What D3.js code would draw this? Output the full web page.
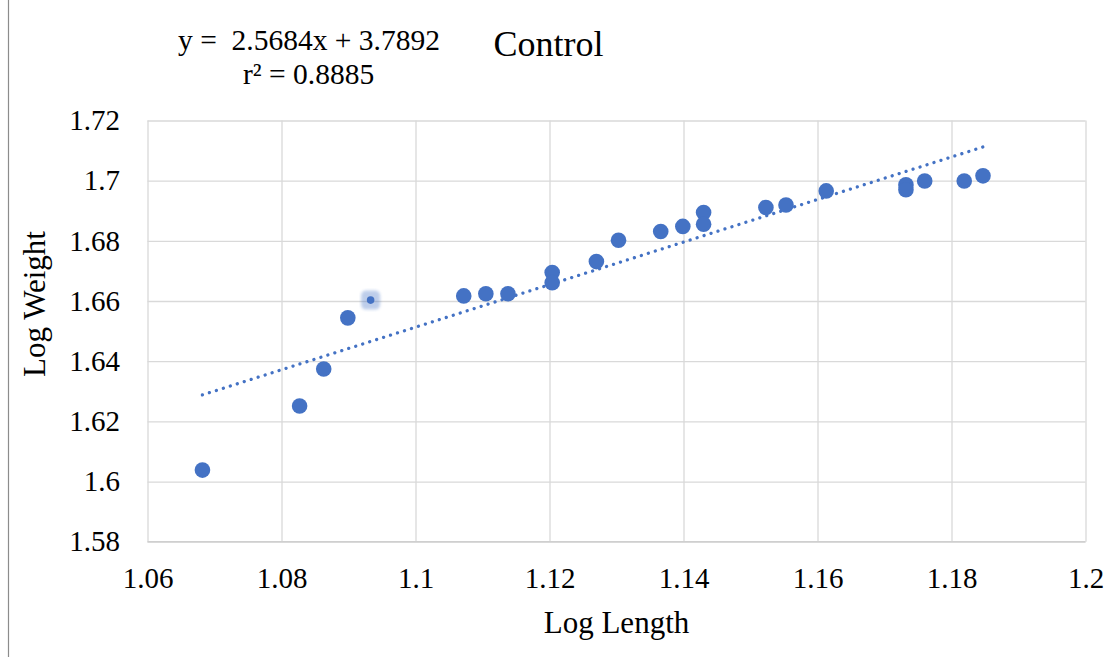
<!DOCTYPE html>
<html>
<head>
<meta charset="utf-8">
<script src="https://cdn.jsdelivr.net/npm/d3@7"></script>
<style>
body { margin: 0; background: #fff; }
</style>
</head>
<body>
<div id="chart"></div>
<script>

// data
var logLength = [1.0682, 1.0827, 1.0863, 1.0899, 1.0933, 1.1072, 1.1105, 1.1138,
  1.1204, 1.1204, 1.1270, 1.1303, 1.1366, 1.1399, 1.1430, 1.1430,
  1.1523, 1.1553, 1.1613, 1.1732, 1.1732, 1.1760, 1.1819, 1.1847]
var logWeight = [1.6038, 1.6251, 1.6374, 1.6544, 1.6603, 1.6617, 1.6624, 1.6624,
  1.6695, 1.6661, 1.6731, 1.6802, 1.6831, 1.6848, 1.6894, 1.6855,
  1.6911, 1.6919, 1.6966, 1.6986, 1.6970, 1.6999, 1.6999, 1.7016]
var selectedPoint = 4

var trendX = [1.0682, 1.1847]
var trendY = [1.6288, 1.7112]

var xTicks = [1.06, 1.08, 1.1, 1.12, 1.14, 1.16, 1.18, 1.2]
var xTickLabels = ["1.06", "1.08", "1.1", "1.12", "1.14", "1.16", "1.18", "1.2"]
var yTicks = [1.58, 1.6, 1.62, 1.64, 1.66, 1.68, 1.7, 1.72]
var yTickLabels = ["1.58", "1.6", "1.62", "1.64", "1.66", "1.68", "1.7", "1.72"]

var equationText = "y =  2.5684x + 3.7892"
var r2Text = "r\u00b2 = 0.8885"
var titleText = "Control"

var W = 1104, H = 657
var plot = { left: 147.5, right: 1085.5, top: 120.5, bottom: 541.7 }
var blue = "#4472C4"
var serif = "'Liberation Serif', 'Times New Roman', Times, serif"

var svg = d3.select("#chart").append("svg")
  .attr("width", W)
  .attr("height", H)
  .attr("font-family", serif)

svg.append("rect").attr("width", W).attr("height", H).attr("fill", "#fff")

// outer frame edge on the left
svg.append("line")
  .attr("x1", 8.5).attr("x2", 8.5).attr("y1", 0).attr("y2", H)
  .attr("stroke", "#8c8c8c").attr("stroke-width", 1.2)

var x = d3.scaleLinear().domain([1.06, 1.2]).range([plot.left, plot.right])
var y = d3.scaleLinear().domain([1.58, 1.72]).range([plot.bottom, plot.top])

//gridlines + labels for y
var yAxis = d3.axisLeft(y)
  .tickValues(yTicks)
  .tickFormat(function(d, i){ return yTickLabels[i] })
  .tickSizeInner(-(plot.right - plot.left))
  .tickSizeOuter(0)
  .tickPadding(27.5)

var gy = svg.append("g")
  .attr("transform", "translate(" + plot.left + ",0)")
  .call(yAxis)
gy.attr("font-family", serif).attr("font-size", 29)
gy.select(".domain").remove()
gy.selectAll(".tick line").attr("stroke", "#d9d9d9").attr("stroke-width", 1.3)
gy.selectAll(".tick text").attr("fill", "#000")

//gridlines + labels for x
var xAxis = d3.axisBottom(x)
  .tickValues(xTicks)
  .tickFormat(function(d, i){ return xTickLabels[i] })
  .tickSizeInner(-(plot.bottom - plot.top))
  .tickSizeOuter(0)
  .tickPadding(26)

var gx = svg.append("g")
  .attr("transform", "translate(0," + plot.bottom + ")")
  .call(xAxis)
gx.attr("font-family", serif).attr("font-size", 29)
gx.select(".domain").remove()
gx.selectAll(".tick line").attr("stroke", "#d9d9d9").attr("stroke-width", 1.3)
gx.selectAll(".tick text").attr("fill", "#000")

// bottom axis line
svg.append("line")
  .attr("x1", plot.left).attr("x2", plot.right)
  .attr("y1", plot.bottom).attr("y2", plot.bottom)
  .attr("stroke", "#cfcfcf").attr("stroke-width", 1.5)

// dotted trendline
var trend = trendX.map(function(d, i){ return [d, trendY[i]] })
svg.append("path")
  .datum(trend)
  .attr("d", d3.line().x(function(d){ return x(d[0]) }).y(function(d){ return y(d[1]) }))
  .attr("fill", "none")
  .attr("stroke", blue)
  .attr("stroke-width", 3.3)
  .attr("stroke-linecap", "round")
  .attr("stroke-dasharray", "0.01 7.3")

// points
var pts = logLength.map(function(d, i){ return { x: d, y: logWeight[i], sel: i === selectedPoint } })

var defs = svg.append("defs")
defs.append("filter").attr("id", "blur")
  .append("feGaussianBlur").attr("stdDeviation", 1.6)

svg.append("g").selectAll("rect")
  .data(pts.filter(function(d){ return d.sel }))
  .enter()
  .append("rect")
  .attr("x", function(d){ return x(d.x) - 9.5 })
  .attr("y", function(d){ return y(d.y) - 9.5 })
  .attr("width", 19)
  .attr("height", 19)
  .attr("rx", 5)
  .attr("fill", blue)
  .attr("opacity", 0.35)
  .attr("filter", "url(#blur)")

svg.append("g").selectAll("circle")
  .data(pts)
  .enter()
  .append("circle")
  .attr("cx", function(d){ return x(d.x) })
  .attr("cy", function(d){ return y(d.y) })
  .attr("r", function(d){ return d.sel ? 3.8 : 7.8 })
  .attr("fill", blue)

// texts
svg.append("text")
  .attr("x", 178)
  .attr("y", 49.5)
  .attr("xml:space", "preserve")
  .attr("font-size", 29.5)
  .style("white-space", "pre")
  .text(equationText)

svg.append("text")
  .attr("x", 243)
  .attr("y", 83.5)
  .attr("font-size", 29.5)
  .text(r2Text)

svg.append("text")
  .attr("x", 493.5)
  .attr("y", 56)
  .attr("font-size", 36)
  .text(titleText)

svg.append("text")
  .attr("x", (plot.left + plot.right) / 2)
  .attr("y", 632.7)
  .attr("text-anchor", "middle")
  .attr("font-size", 31)
  .text("Log Length")

svg.append("text")
  .attr("transform", "translate(45,304) rotate(-90)")
  .attr("text-anchor", "middle")
  .attr("font-size", 31)
  .text("Log Weight")

</script>
</body>
</html>
